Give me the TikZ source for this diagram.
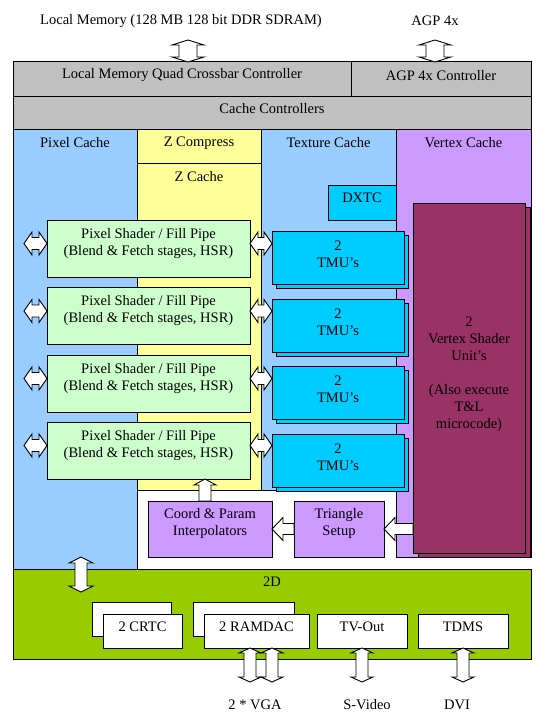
\documentclass[tikz,border=0pt]{standalone}
\usepackage{fontspec}
\setmainfont{Liberation Serif}
\usetikzlibrary{calc}
\definecolor{cgray}{HTML}{C0C0C0}
\definecolor{cblue}{HTML}{99CCFF}
\definecolor{cyell}{HTML}{FFFF99}
\definecolor{clav}{HTML}{CC99FF}
\definecolor{ccyan}{HTML}{00CCFF}
\definecolor{cgreen}{HTML}{CCFFCC}
\definecolor{cmaroon}{HTML}{993366}
\definecolor{c2d}{HTML}{99CC00}
% horizontal double block arrow: #1 left point, #2 right point, #3 head half, #4 shaft half, #5 head length
\newcommand\HDbl[5]{\draw[blk] let \p1=#1, \p2=#2 in (\x1,\y1) -- (\x1+#5,\y1+#3) -- (\x1+#5,\y1+#4) -- (\x2-#5,\y1+#4) -- (\x2-#5,\y1+#3) -- (\x2,\y1) -- (\x2-#5,\y1-#3) -- (\x2-#5,\y1-#4) -- (\x1+#5,\y1-#4) -- (\x1+#5,\y1-#3) -- cycle;}
% vertical double block arrow: #1 top point, #2 bottom point
\newcommand\VDbl[5]{\draw[blk] let \p1=#1, \p2=#2 in (\x1,\y1) -- (\x1+#3,\y1-#5) -- (\x1+#4,\y1-#5) -- (\x1+#4,\y2+#5) -- (\x1+#3,\y2+#5) -- (\x1,\y2) -- (\x1-#3,\y2+#5) -- (\x1-#4,\y2+#5) -- (\x1-#4,\y1-#5) -- (\x1-#3,\y1-#5) -- cycle;}
% single up block arrow: #1 tail (bottom), #2 tip (top)
\newcommand\UpArr[5]{\draw[blk] let \p1=#1, \p2=#2 in (\x2,\y2) -- (\x2+#3,\y2-#5) -- (\x2+#4,\y2-#5) -- (\x2+#4,\y1) -- (\x2-#4,\y1) -- (\x2-#4,\y2-#5) -- (\x2-#3,\y2-#5) -- cycle;}
% single left block arrow: #1 tail (right), #2 tip (left)
\newcommand\LeftArr[5]{\draw[blk] let \p1=#1, \p2=#2 in (\x2,\y2) -- (\x2+#5,\y2+#3) -- (\x2+#5,\y2+#4) -- (\x1,\y2+#4) -- (\x1,\y2-#4) -- (\x2+#5,\y2-#4) -- (\x2+#5,\y2-#3) -- cycle;}
\tikzset{
  rect/.style={draw=black, line width=1pt, inner sep=0pt, outer sep=0pt, align=center},
  blk/.style={draw=black, line width=0.9pt, fill=white, line join=miter},
  lbl/.style={inner sep=0pt, align=center},
  tx/.style={label={[lbl,yshift=4pt]center:{#1}}},
  txb/.style={label={[lbl,yshift=5pt]center:{#1}}},
}
\begin{document}
\begin{tikzpicture}[x=1pt, y=-1pt, font=\fontsize{14.5}{17}\selectfont]
\useasboundingbox (0,0) rectangle (550,727);
% external labels
\node[lbl] (lmlbl) at (181,21) {Local Memory (128 MB 128 bit DDR SDRAM)};
\node[lbl] (agplbl) at (435,21) {AGP 4x};
% controllers
\node[rect, fill=cgray, minimum width=338, minimum height=35, tx={Local Memory Quad Crossbar Controller}] (memctl) at (182,79.5) {};
\node[rect, fill=cgray, minimum width=180, minimum height=35, tx={AGP 4x Controller}] (agpctl) at (441,79.5) {};
\node[rect, fill=cgray, minimum width=518, minimum height=33, txb={Cache Controllers}] (cachectl) at (272,113.5) {};
% columns
\node[rect, fill=cblue, minimum width=124, minimum height=439] (pixcache) at (75,349.5) {};
\node[lbl] (pixcachelbl) at (75,143) {Pixel Cache};
\node[rect, fill=cyell, minimum width=124, minimum height=34, tx={Z Compress}] (zcomp) at (199,147) {};
\node[rect, fill=cyell, minimum width=124, minimum height=326] (zcache) at (199,327) {};
\node[lbl] (zcachelbl) at (199,177) {Z Cache};
\node[rect, fill=cblue, minimum width=135, minimum height=360] (texcache) at (328.5,310) {};
\node[lbl] (texcachelbl) at (328.5,143) {Texture Cache};
\node[rect, fill=clav, minimum width=135, minimum height=427] (vertcache) at (463.5,343.5) {};
\node[lbl] (vertcachelbl) at (463.5,143) {Vertex Cache};
% 2D
\node[rect, fill=c2d, minimum width=518, minimum height=90] (twod) at (272,614) {};
\node[lbl] (twodlbl) at (272,582) {2D};
% DXTC
\node[rect, fill=ccyan, minimum width=68, minimum height=34, txb={DXTC}] (dxtc) at (362,203) {};
% vertex shader
\node[rect, fill=cmaroon, minimum width=112, minimum height=349] (vsb) at (474,382.5) {};
\node[rect, fill=cmaroon, minimum width=112, minimum height=349, tx={2\\Vertex Shader\\Unit’s\\[17pt](Also execute\\T\&L\\microcode)}] (vs) at (469,378.5) {};
% TMUs
\foreach \i/\y in {1/257.5, 2/325.5, 3/392.5, 4/460.5}{
  \node[rect, fill=ccyan, minimum width=132, minimum height=53] (tmub\i) at (342,\y+4) {};
  \node[rect, fill=ccyan, minimum width=132, minimum height=53, label={[lbl,yshift=3pt]center:{2\\TMU’s}}] (tmu\i) at (338,\y) {};
}
% pixel shaders
\foreach \i/\y in {1/248.5, 2/316, 3/383.5, 4/450.5}{
  \node[rect, fill=cgreen, minimum width=203, minimum height=57, txb={Pixel Shader / Fill Pipe\\(Blend \& Fetch stages, HSR)}] (ps\i) at (148.5,\y) {};
}
% setup
\node[rect, fill=clav, minimum width=124, minimum height=56, txb={Coord \& Param\\Interpolators}] (coord) at (210,529) {};
\node[rect, fill=clav, minimum width=90, minimum height=56, txb={Triangle\\Setup}] (tri) at (339,529) {};
% 2D boxes
\node[rect, fill=white, minimum width=79, minimum height=34] (crtcb) at (131.5,619) {};
\node[rect, fill=white, minimum width=79, minimum height=34, tx={2 CRTC}] (crtc) at (142.5,631) {};
\node[rect, fill=white, minimum width=101, minimum height=34] (ramb) at (243.5,619) {};
\node[rect, fill=white, minimum width=105, minimum height=34, tx={2 RAMDAC}] (ram) at (256.5,631) {};
\node[rect, fill=white, minimum width=90, minimum height=34, tx={TV-Out}] (tv) at (362,631) {};
\node[rect, fill=white, minimum width=90, minimum height=34, tx={TDMS}] (tdms) at (463,631) {};
% bottom labels
\node[lbl] (vgalbl) at (255,705) {2 * VGA};
\node[lbl] (svlbl) at (367,705) {S-Video};
\node[lbl] (dvilbl) at (457,705) {DVI};
% coordinates for free arrow ends
\coordinate (lmA) at (188,40);
\coordinate (agA) at (435,40);
\coordinate (pcA) at (81,557);
\coordinate (pcB) at (81,592);
\coordinate (vga1) at (250,682);
\coordinate (vga2) at (272,682);
\coordinate (svid) at (362,682);
\coordinate (dvi) at (463,682);
\foreach \i in {1,2,3,4}{ \coordinate (pl\i) at ($(ps\i.west)+(-23,-5)$); }
% arrows
\VDbl{(lmA)}{(memctl.north -| lmA)}{16pt}{9pt}{5pt}
\VDbl{(agA)}{(agpctl.north -| agA)}{16pt}{9pt}{5pt}
\foreach \i in {1,2,3,4}{
  \HDbl{(pl\i)}{($(ps\i.west)+(0,-5)$)}{11.5pt}{6pt}{8pt}
  \HDbl{($(ps\i.east)+(0,-5)$)}{($(ps\i.east -| tmu\i.west)+(0,-5)$)}{11.5pt}{6pt}{8pt}
}
\UpArr{($(coord.north)+(-5,0)$)}{($(ps4.south)+(56.5,0)$)}{11pt}{6pt}{6pt}
\LeftArr{(tri.west)}{(coord.east)}{11.5pt}{5.5pt}{11pt}
\LeftArr{(tri.east -| vs.west)}{(tri.east)}{11.5pt}{5.5pt}{11pt}
\VDbl{(pcA)}{(pcB)}{12pt}{6pt}{6pt}
\VDbl{(ram.south -| vga1)}{(vga1)}{11pt}{6pt}{5pt}
\VDbl{(ram.south -| vga2)}{(vga2)}{11pt}{6pt}{5pt}
\VDbl{(tv.south)}{(svid)}{11pt}{6pt}{5pt}
\VDbl{(tdms.south)}{(dvi)}{11pt}{6pt}{5pt}
\end{tikzpicture}
\end{document}
